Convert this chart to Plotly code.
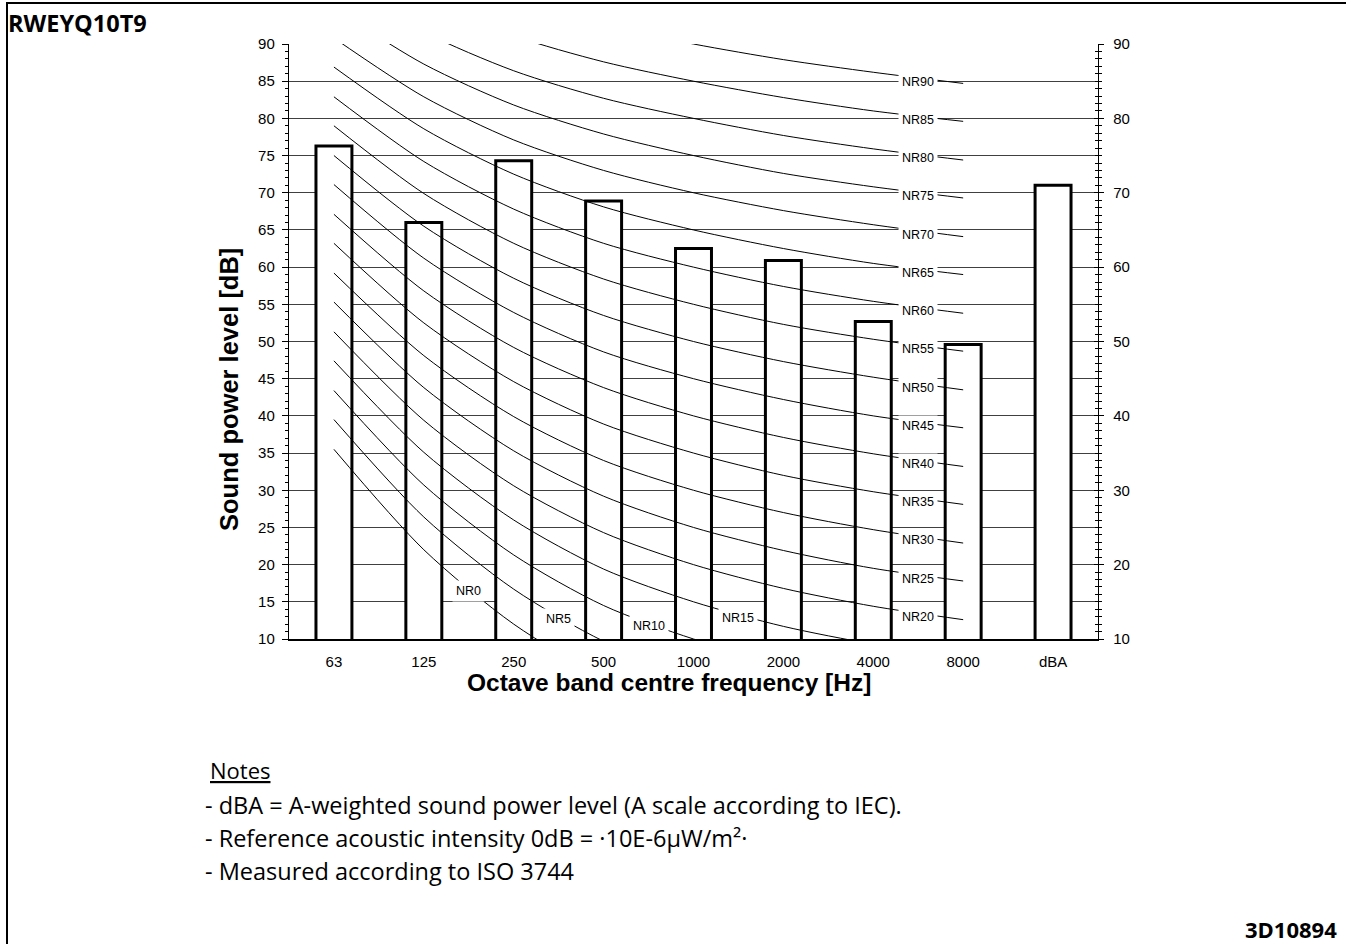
import plotly.graph_objects as go

# ---------------- data ----------------
categories = ["63", "125", "250", "500", "1000", "2000", "4000", "8000", "dBA"]
sound_power = [76.3, 66.0, 74.3, 68.9, 62.5, 60.9, 52.7, 49.6, 71.0]

nr_levels = [0, 5, 10, 15, 20, 25, 30, 35, 40, 45, 50, 55, 60, 65, 70, 75, 80, 85, 90]
nr_63 = [35.5, 39.5, 43.4, 47.4, 51.3, 55.3, 59.2, 63.2, 67.1, 71.1, 75.0, 79.0, 82.9, 86.9, 90.8, 94.8, 98.7, 102.7, 106.6]
nr_125 = [22.0, 26.4, 30.7, 35.1, 39.4, 43.8, 48.1, 52.5, 56.8, 61.2, 65.5, 69.9, 74.2, 78.6, 82.9, 87.3, 91.6, 96.0, 100.3]
nr_250 = [12.0, 16.7, 21.3, 26.0, 30.6, 35.3, 39.9, 44.6, 49.2, 53.9, 58.5, 63.2, 67.8, 72.5, 77.1, 81.8, 86.4, 91.1, 95.7]
nr_500 = [4.8, 9.7, 14.5, 19.4, 24.3, 29.2, 34.0, 38.9, 43.8, 48.6, 53.5, 58.4, 63.2, 68.1, 73.0, 77.9, 82.7, 87.6, 92.5]
nr_1000 = [0.0, 5.0, 10.0, 15.0, 20.0, 25.0, 30.0, 35.0, 40.0, 45.0, 50.0, 55.0, 60.0, 65.0, 70.0, 75.0, 80.0, 85.0, 90.0]
nr_2000 = [-3.5, 1.6, 6.7, 11.7, 16.8, 21.9, 27.0, 32.0, 37.1, 42.2, 47.3, 52.3, 57.4, 62.5, 67.6, 72.6, 77.7, 82.8, 87.9]
nr_4000 = [-6.1, -1.0, 4.2, 9.3, 14.4, 19.5, 24.7, 29.8, 34.9, 40.0, 45.2, 50.3, 55.4, 60.5, 65.7, 70.8, 75.9, 81.0, 86.2]
nr_8000 = [-8.0, -2.9, 2.3, 7.5, 12.6, 17.8, 22.9, 28.1, 33.2, 38.4, 43.5, 48.7, 53.8, 59.0, 64.1, 69.3, 74.4, 79.6, 84.7]

y_ticks_left = [10, 15, 20, 25, 30, 35, 40, 45, 50, 55, 60, 65, 70, 75, 80, 85, 90]
y_ticks_right = [10, 20, 30, 40, 50, 60, 70, 80, 90]

chart_title = "RWEYQ10T9"
doc_code = "3D10894"
notes_header = "Notes"
notes_lines = [
    "- dBA = A-weighted sound power level (A scale according to IEC).",
    "- Reference acoustic intensity 0dB = ·10E-6µW/m²·",
    "- Measured according to ISO 3744",
]

# ---------------- layout helpers ----------------
W, H = 1346, 944          # page size
L, R, T, B = 289, 248, 44, 305   # plot area in page pixels
PW, PH = W - L - R, H - T - B


def fx(px):
    return (px - L) / PW


def fy(py):
    return (H - B - py) / PH


ARIAL = "Liberation Sans, Arial, sans-serif"
NOTEF = "Open Sans, sans-serif"

fig = go.Figure()

xs = list(range(len(categories)))
fig.add_trace(go.Bar(
    x=xs, y=sound_power, width=0.4,
    marker=dict(color="white", line=dict(color="black", width=3)),
    showlegend=False, hoverinfo="skip",
))

bands = [nr_63, nr_125, nr_250, nr_500, nr_1000, nr_2000, nr_4000, nr_8000]
annotations = []
for i, lvl in enumerate(nr_levels):
    vals = [band[i] for band in bands]
    fig.add_trace(go.Scatter(
        x=list(range(len(vals))), y=vals, mode="lines",
        line=dict(color="black", width=1, shape="spline", smoothing=0.8),
        showlegend=False, hoverinfo="skip",
    ))
    seg = 6
    for k in range(len(vals) - 1):
        if vals[k + 1] < 12.5:
            seg = k
            break
    annotations.append(dict(
        x=seg + 0.5, y=(vals[seg] + vals[seg + 1]) / 2, xref="x", yref="y",
        text=f"NR{lvl}", showarrow=False, yshift=-4,
        font=dict(family=ARIAL, size=12.5, color="black"),
        bgcolor="white", borderpad=3,
    ))

# dummy traces so overlay axes render
fig.add_trace(go.Scatter(x=[0], y=[50], yaxis="y2", mode="markers",
                         marker=dict(opacity=0), showlegend=False, hoverinfo="skip"))
fig.add_trace(go.Scatter(x=[0], y=[50], yaxis="y3", mode="markers",
                         marker=dict(opacity=0), showlegend=False, hoverinfo="skip"))

# axis titles
annotations.append(dict(
    x=fx(669), y=fy(682), xref="paper", yref="paper",
    text="<b>Octave band centre frequency [Hz]</b>", showarrow=False,
    font=dict(family=ARIAL, size=24.5, color="black"),
    xanchor="center", yanchor="middle",
))
annotations.append(dict(
    x=fx(229), y=fy(390), xref="paper", yref="paper",
    text="<b>Sound power level [dB]</b>", showarrow=False, textangle=-90,
    font=dict(family=ARIAL, size=25.5, color="black"),
    xanchor="center", yanchor="middle",
))

# page title and code
annotations.append(dict(
    x=fx(6), y=fy(23), xref="paper", yref="paper",
    text=f"<b>{chart_title}</b>", showarrow=False,
    font=dict(family=NOTEF, size=23.5, color="black"),
    xanchor="left", yanchor="middle",
))
annotations.append(dict(
    x=fx(1243), y=fy(912), xref="paper", yref="paper",
    text=f"<b>{doc_code}</b>", showarrow=False,
    font=dict(family=NOTEF, size=22, color="black"),
    xanchor="left", yanchor="top",
))

# notes
annotations.append(dict(
    x=fx(208), y=fy(770), xref="paper", yref="paper",
    text=f"<u>{notes_header}</u>", showarrow=False,
    font=dict(family=NOTEF, size=22, color="black"),
    xanchor="left", yanchor="middle",
))
for j, line in enumerate(notes_lines):
    annotations.append(dict(
        x=fx(203), y=fy(805 + 33 * j), xref="paper", yref="paper",
        text=line, showarrow=False,
        font=dict(family=NOTEF, size=23.5, color="black"),
        xanchor="left", yanchor="middle",
    ))

shapes = [
    dict(type="line", xref="paper", yref="paper", x0=fx(6), x1=fx(W + 5),
         y0=fy(3), y1=fy(3), line=dict(color="black", width=2)),
    dict(type="line", xref="paper", yref="paper", x0=fx(7), x1=fx(7),
         y0=fy(3), y1=fy(H + 5), line=dict(color="black", width=2)),
]

tickfont = dict(family=ARIAL, size=15, color="black")

fig.update_layout(
    width=W, height=H,
    margin=dict(l=L, r=R, t=T, b=B, pad=0),
    paper_bgcolor="white", plot_bgcolor="white",
    showlegend=False,
    annotations=annotations,
    shapes=shapes,
    xaxis=dict(
        range=[-0.5, 8.5], tickvals=xs, ticktext=categories,
        showgrid=False, zeroline=False, showline=True,
        linecolor="black", linewidth=1.5, ticks="", tickfont=tickfont,
        ticklabelstandoff=8, fixedrange=True,
    ),
    yaxis=dict(
        range=[10, 90], tickvals=y_ticks_left, showgrid=True,
        gridcolor="#404040", gridwidth=1, zeroline=False, showline=True,
        linecolor="black", linewidth=1.2, ticks="outside", ticklen=6,
        tickcolor="black", tickfont=tickfont, ticklabelstandoff=4,
        minor=dict(dtick=1, ticks="outside", ticklen=3, tickcolor="black", showgrid=False),
    ),
    yaxis2=dict(
        range=[10, 90], tickvals=y_ticks_right, overlaying="y", side="right",
        anchor="x", showgrid=False, zeroline=False, showline=True,
        linecolor="black", linewidth=1.2, ticks="outside", ticklen=5,
        tickcolor="black", tickfont=tickfont, ticklabelstandoff=6,
        minor=dict(dtick=1, ticks="outside", ticklen=3, tickcolor="black", showgrid=False),
    ),
    yaxis3=dict(
        range=[10, 90], tickvals=y_ticks_right, overlaying="y", side="right",
        anchor="x", showgrid=False, zeroline=False, showline=False,
        showticklabels=False, ticks="inside", ticklen=4, tickcolor="black",
        minor=dict(dtick=1, ticks="inside", ticklen=3, tickcolor="black", showgrid=False),
    ),
)

fig.write_html(
    "out.html",
    config={"displayModeBar": False, "staticPlot": True},
    post_script="document.body.style.margin='0px';document.body.style.overflow='hidden';",
)
